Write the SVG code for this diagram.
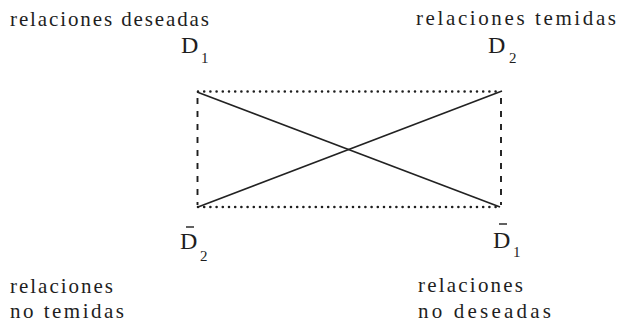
<svg xmlns="http://www.w3.org/2000/svg" width="618" height="328" viewBox="0 0 618 328">
<style>
text{font-family:'Liberation Serif','DejaVu Serif','Times New Roman',serif;fill:#1e1e1e}
.t{font-size:21px}
.d{font-size:24px}
.s{font-size:15px}
.dot{stroke:#1e1e1e;stroke-width:2.6;stroke-linecap:round;stroke-dasharray:0 6.2;fill:none}
.dash{stroke:#1e1e1e;stroke-width:1.9;stroke-dasharray:6 7;fill:none}
.solid{stroke:#222;stroke-width:1.6;fill:none}
.bar{stroke:#1e1e1e;stroke-width:1.4}
</style>
<rect width="618" height="328" fill="#fff"/>
<g id="connectors">
<line class="dot" x1="198" y1="91.5" x2="501" y2="91.5"/>
<line class="dot" x1="198" y1="207" x2="500" y2="207"/>
<line class="dash" x1="197.5" y1="98" x2="197.5" y2="205"/>
<line class="dash" x1="501" y1="98" x2="501" y2="205"/>
<line class="solid" x1="197" y1="92" x2="500" y2="207"/>
<line class="solid" x1="198" y1="207" x2="502" y2="91"/>
</g>
<g id="D1" font-family="Liberation Serif, serif">
<text class="t" x="10" y="26" textLength="199" lengthAdjust="spacing">relaciones deseadas</text>
<text class="d" x="181" y="53">D</text><text class="s" x="201" y="63">1</text>
</g>
<g id="D2">
<text class="t" x="416" y="25" textLength="200" lengthAdjust="spacing">relaciones temidas</text>
<text class="d" x="488" y="53">D</text><text class="s" x="509" y="63">2</text>
</g>
<g id="notD2">
<line class="bar" x1="186" y1="227" x2="194" y2="227"/>
<text class="d" x="180" y="249">D</text><text class="s" x="200" y="261">2</text>
<text class="t" x="10" y="293" textLength="103" lengthAdjust="spacing">relaciones</text>
<text class="t" x="10" y="318" textLength="114" lengthAdjust="spacing">no temidas</text>
</g>
<g id="notD1">
<line class="bar" x1="499" y1="224" x2="507" y2="224"/>
<text class="d" x="493" y="248">D</text><text class="s" x="513" y="257">1</text>
<text class="t" x="418" y="292" textLength="105" lengthAdjust="spacing">relaciones</text>
<text class="t" x="418" y="318" textLength="133" lengthAdjust="spacing">no deseadas</text>
</g>
</svg>
